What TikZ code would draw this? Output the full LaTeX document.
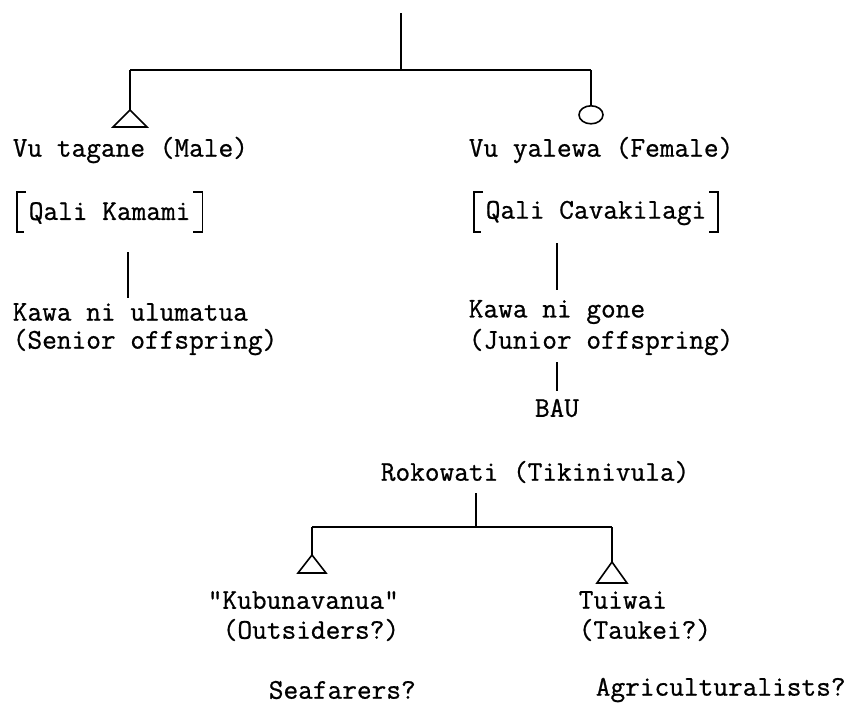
\documentclass[tikz,border=0pt]{standalone}
\usepackage{fontspec}
\newfontfamily\typew{Latin Modern Mono}[RawFeature={embolden=0.8}]
\usetikzlibrary{shapes.geometric,calc}
\begin{document}
\begin{tikzpicture}[x=0.75pt,y=-0.75pt,line width=1.2pt,
  txt/.style={font=\typew\fontsize{21.4}{24}\selectfont,anchor=west,inner sep=0pt},
  ctxt/.style={font=\typew\fontsize{21.4}{24}\selectfont,inner sep=0pt},
  brk/.style={line width=1pt},
  fem/.style={draw,ellipse,inner sep=0pt,minimum width=18pt,minimum height=13.5pt,anchor=north}]
\useasboundingbox (0,0) rectangle (858,711);
% top level
\coordinate (top) at (401,13);
\coordinate (j1) at (401,70);
\coordinate (jl) at (130,70);
\coordinate (jr) at (591,70);
\coordinate (mt) at (130,110);
\node[fem] (ft) at (591,105) {};
\draw (top) -- (j1);
\draw (jl) -- (jr);
\draw (jl) -- (mt);
\draw (jr) -- (ft.north);
\draw (mt) -- ++(-17,17) -- ++(34,0) -- cycle;
% labels
\node[txt] (vt) at (12,150) {Vu tagane (Male)};
\node[txt] (vy) at (468,150) {Vu yalewa (Female)};
\node[txt] (qk) at (28,213) {Qali Kamami};
\node[txt] (qc) at (485,213) {Qali Cavakilagi};
\draw[brk] ($(qk.west)+(-2,-21)$) -- ++(-9,0) -- ++(0,40) -- ++(7,0);
\draw[brk] ($(qk.east)+(2,-21)$) -- ++(9,0) -- ++(0,40) -- ++(-9,0);
\draw[brk] ($(qc.west)+(-2,-21)$) -- ++(-9,0) -- ++(0,40) -- ++(7,0);
\draw[brk] ($(qc.east)+(2,-21)$) -- ++(9,0) -- ++(0,40) -- ++(-9,0);
\coordinate (l1a) at (128,252);
\coordinate (l1b) at (128,298);
\coordinate (r1a) at (557,243);
\coordinate (r1b) at (557,290);
\draw (l1a) -- (l1b);
\draw (r1a) -- (r1b);
\node[txt] (ku) at (12,312) {Kawa ni ulumatua};
\node[txt] (so) at (12,342) {(Senior offspring)};
\node[txt] (kg) at (468,312) {Kawa ni gone};
\node[txt] (jo) at (468,342) {(Junior offspring)};
\node[ctxt] (bau) at (557,408) {BAU};
\coordinate (b1) at (557,362);
\coordinate (b2) at (557,391);
\draw (b1) -- (b2);
\node[txt] (rk) at (380,472) {Rokowati (Tikinivula)};
% lower level
\coordinate (rka) at (476,493);
\coordinate (j2) at (476,527);
\coordinate (j2l) at (312,527);
\coordinate (j2r) at (612,527);
\coordinate (kt) at (312,555);
\coordinate (tt) at (612,562);
\draw (rka) -- (j2);
\draw (j2l) -- (j2r);
\draw (j2l) -- (kt);
\draw (j2r) -- (tt);
\draw (kt) -- ++(-14,18) -- ++(28,0) -- cycle;
\draw (tt) -- ++(-15,21) -- ++(30,0) -- cycle;
\node[txt] (kb) at (207,600) {"Kubunavanua"};
\node[txt] (ou) at (222,630) {(Outsiders?)};
\node[txt] (tw) at (578,600) {Tuiwai};
\node[txt] (ta) at (578,630) {(Taukei?)};
\node[txt] (sf) at (268,690) {Seafarers?};
\node[txt] (ag) at (595,690) {Agriculturalists?};
\end{tikzpicture}
\end{document}
